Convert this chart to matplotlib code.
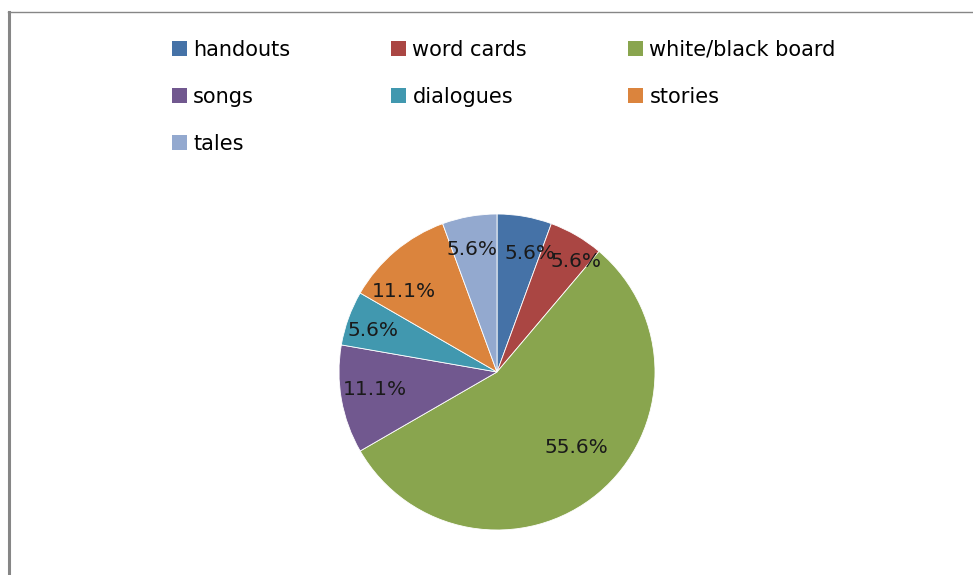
import matplotlib.pyplot as plt
from matplotlib.patches import Patch
from matplotlib.lines import Line2D

# ── Data ───────────────────────────────────────────────────────────────────
categories = ["handouts", "word cards", "white/black board", "songs",
              "dialogues", "stories", "tales"]
shares = [5.6, 5.6, 55.6, 11.1, 5.6, 11.1, 5.6]
colors = ["#4572A7", "#AA4643", "#89A54E", "#71588F",
          "#4198AF", "#DB843D", "#93A9CF"]

# label placement inside the pie (unit-radius coords, Excel "best fit")
label_pos = [(0.21, 0.75), (0.50, 0.70), (0.50, -0.475), (-0.77, -0.11),
             (-0.785, 0.265), (-0.59, 0.51), (-0.16, 0.775)]

plt.rcParams["font.family"] = ["DejaVu Sans"]

# ── Plot ───────────────────────────────────────────────────────────────────
fig = plt.figure(figsize=(9.73, 5.75), dpi=100)

# chart frame (only left and top edges visible)
fig.add_artist(Line2D([8.5 / 973, 8.5 / 973], [0, 1 - 12 / 575],
                      transform=fig.transFigure, color="#868686", lw=2.2))
fig.add_artist(Line2D([8 / 973, 1], [1 - 12 / 575, 1 - 12 / 575],
                      transform=fig.transFigure, color="#868686", lw=1.0))

pax = fig.add_axes([(497 - 158) / 973, 1 - (372 + 158) / 575,
                    316 / 973, 316 / 575])
pct_labels = iter(f"{v:.1f}%" for v in shares)
wedges, texts, autotexts = pax.pie(
    shares, colors=colors, startangle=90, counterclock=False,
    autopct=lambda p: next(pct_labels), pctdistance=0.8,
    wedgeprops=dict(edgecolor="white", linewidth=0.6),
    textprops=dict(fontsize=14.5, color="#1a1a1a"))
for t, pos in zip(autotexts, label_pos):
    t.set_position(pos)
pax.set_xlim(-1, 1)
pax.set_ylim(-1, 1)
pax.set_aspect("equal")

# legend, row-major order as in original (3 columns)
order = [0, 3, 6, 1, 4, 2, 5]
handles = [Patch(facecolor=colors[i], edgecolor="none") for i in order]
labels = [categories[i] for i in order]
fig.legend(handles, labels, ncol=3, loc="upper left",
           bbox_to_anchor=(153 / 973, 1 - 21 / 575), frameon=False,
           fontsize=15, handlelength=0.72, handleheight=0.72,
           handletextpad=0.3, labelspacing=1.3, columnspacing=4.85)

plt.savefig("out.png", dpi=100)
